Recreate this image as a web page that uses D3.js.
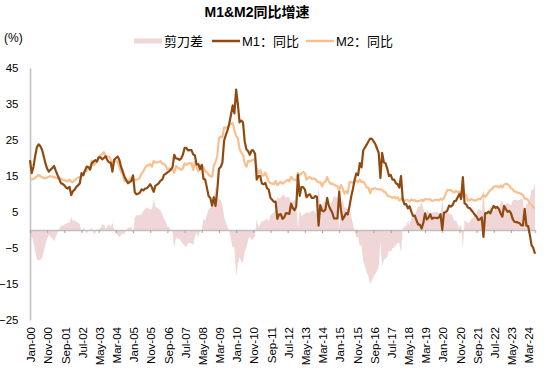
<!DOCTYPE html>
<html><head><meta charset="utf-8">
<script src="https://cdn.jsdelivr.net/npm/d3@7"></script>
<style>
body{margin:0;background:#fff;}
text{font-family:"Liberation Sans",Arial,"Noto Sans CJK SC",sans-serif;}
</style></head>
<body><svg id="c" width="550" height="380"></svg>
<script>
const title = "M1&M2同比增速";
const seriesNames = ["剪刀差", "M1：同比", "M2：同比"];
const startYear = 2000;
const tickLabels = ["Jan-00","Nov-00","Sep-01","Jul-02","May-03","Mar-04","Jan-05","Nov-05","Sep-06","Jul-07","May-08","Mar-09","Jan-10","Nov-10","Sep-11","Jul-12","May-13","Mar-14","Jan-15","Nov-15","Sep-16","Jul-17","May-18","Mar-19","Jan-20","Nov-20","Sep-21","Jul-22","May-23","Mar-24"];
const yTicks = [-25,-15,-5,5,15,25,35,45];
// M1 YoY %, monthly Jan-2000 .. Jul-2024
const m1 = [
19.4,15.8,17.5,20.5,23.0,23.8,23.3,22.3,20.5,18.5,17.0,16.2,
16.8,17.2,17.8,16.5,15.3,14.2,13.0,12.8,12.4,11.8,11.5,12.0,
9.7,10.8,11.2,12.0,12.4,13.0,15.8,15.2,16.5,17.6,17.5,16.8,
18.6,19.0,19.4,19.0,20.2,20.2,19.6,20.0,20.5,19.4,18.8,18.7,
16.2,19.5,20.0,20.4,19.5,17.6,16.2,14.8,13.9,13.0,13.3,13.6,
15.2,10.5,9.9,10.1,10.4,11.3,11.0,11.5,11.6,12.1,12.7,11.8,
10.6,12.3,12.6,13.0,13.7,14.0,15.3,15.6,16.0,16.3,16.8,17.5,
20.9,19.9,19.8,19.5,19.9,20.9,22.8,22.8,22.1,22.2,22.2,21.0,
20.7,18.2,18.3,16.9,18.1,14.2,14.0,11.7,9.4,8.9,6.8,9.1,
6.7,10.9,17.0,17.5,18.7,24.8,26.4,27.7,29.5,32.0,34.6,32.4,
39.0,35.0,29.9,30.4,29.9,24.6,22.4,21.9,20.9,22.1,22.1,21.2,
14.0,15.0,15.0,12.9,12.7,13.1,11.6,11.2,8.9,8.4,7.8,7.9,
3.1,4.3,4.4,3.1,3.5,4.7,4.6,4.5,7.3,6.1,5.5,6.5,
15.3,9.5,11.9,11.9,11.3,9.1,9.7,9.9,8.9,8.9,9.4,9.3,
1.2,6.9,5.4,5.2,5.7,8.9,6.7,5.7,4.8,3.2,3.2,3.2,
10.6,5.6,2.9,3.7,4.7,4.3,6.6,9.3,11.4,14.0,15.7,15.2,
18.6,17.4,22.1,22.9,23.7,24.6,25.4,25.3,24.7,23.9,22.7,21.4,
14.5,21.4,18.8,18.5,17.0,15.0,15.3,14.0,14.0,13.0,12.7,11.8,
15.0,8.5,7.1,7.2,6.0,6.6,5.1,3.9,4.0,2.7,1.5,1.5,
0.4,2.0,4.6,2.9,3.4,4.4,3.1,3.4,3.4,3.3,3.5,4.4,
0.0,4.8,5.0,5.5,6.8,6.5,6.9,8.0,8.1,9.1,10.0,8.6,
14.7,7.4,7.1,6.2,6.1,5.5,4.9,4.2,3.7,2.8,3.0,3.5,
-1.9,4.7,4.7,5.1,4.6,5.8,6.7,6.1,6.4,5.8,4.6,3.7,
6.7,5.8,5.1,5.3,4.7,3.1,2.3,2.2,2.1,1.9,1.3,1.3,
5.9,1.2,1.1,-1.4,-4.2,-5.0,-6.6];
// M2 YoY %, monthly Jan-2000 .. Jul-2024
const m2 = [
14.6,14.0,14.2,14.5,14.9,15.3,15.0,14.6,14.5,14.4,14.6,14.8,
15.0,14.8,14.7,14.6,14.4,14.4,14.2,14.0,13.9,13.6,13.5,14.0,
13.4,13.3,13.9,14.2,14.5,14.7,15.0,15.8,16.5,16.4,17.5,16.8,
19.3,18.0,18.5,19.2,20.2,20.8,21.0,21.6,20.7,20.4,20.4,19.6,
18.2,19.4,19.1,19.1,17.5,16.2,15.3,13.6,13.9,13.5,14.0,14.6,
14.1,13.9,14.0,14.1,14.6,15.7,16.3,17.3,17.9,18.0,18.3,17.6,
19.2,18.8,18.8,18.9,19.1,18.4,18.4,17.9,16.8,17.1,16.8,16.9,
15.9,17.8,17.3,17.1,16.7,17.1,18.5,18.1,18.5,18.5,18.5,16.7,
18.9,17.5,16.3,16.9,18.1,17.4,16.4,16.0,15.3,15.0,14.8,17.8,
18.8,20.5,25.5,26.0,25.7,28.5,28.4,28.5,29.3,29.4,29.7,27.7,
26.1,25.5,22.5,21.5,21.0,18.5,17.6,19.2,19.0,19.3,19.5,19.7,
17.2,15.7,16.6,15.3,15.1,15.9,14.7,13.5,13.0,12.9,12.7,13.6,
12.4,13.0,13.4,12.8,13.2,13.6,13.9,13.5,14.8,14.1,13.9,13.8,
15.9,15.2,15.7,16.1,15.8,14.0,14.5,14.7,14.2,14.3,14.2,13.6,
13.2,13.3,12.1,13.2,13.4,14.7,13.5,12.8,12.9,12.6,12.3,12.2,
10.8,12.5,11.6,10.1,10.8,10.2,13.3,13.3,13.1,13.5,13.7,13.3,
14.0,13.3,13.4,12.8,11.8,11.8,10.2,11.4,11.5,11.6,11.4,11.3,
11.3,11.1,10.6,10.5,9.6,9.4,9.2,8.9,9.2,8.8,9.1,8.2,
8.6,8.8,8.2,8.3,8.3,8.0,8.5,8.2,8.3,8.0,8.0,8.1,
8.4,8.0,8.6,8.5,8.5,8.5,8.1,8.2,8.4,8.4,8.2,8.7,
8.4,8.8,10.1,11.1,11.1,11.1,10.7,10.4,10.9,10.5,10.7,10.1,
9.4,10.1,9.4,8.1,8.3,8.6,8.3,8.2,8.3,8.7,8.5,9.0,
9.8,9.2,9.7,10.5,11.1,11.4,12.0,12.2,12.1,11.8,12.4,11.8,
12.6,12.9,12.7,12.4,11.6,11.3,10.7,10.6,10.3,10.3,10.0,9.7,
8.7,8.7,8.3,7.2,7.0,6.2,6.3];
// scissors gap = M2 - M1
const gap = m2.map((v,i)=>+(v - m1[i]).toFixed(2));

const svg = d3.select("#c");
const x = d3.scaleLinear().domain([0, m1.length-1]).range([30, 535]);
const y = d3.scaleLinear().domain([-25, 45]).range([320, 68]);
const idx = d3.range(m1.length);

// area
svg.append("path")
  .datum(idx)
  .attr("fill", "#f0d6d6")
  .attr("d", d3.area().x(i=>x(i)).y0(y(0)).y1(i=>y(gap[i])));

// y axis
const ya = svg.append("g").attr("transform","translate(30,0)")
  .call(d3.axisLeft(y).tickValues(yTicks).tickSize(0).tickPadding(11.5).tickFormat(d3.format("d")));
ya.select(".domain").attr("stroke","#bfbfbf").attr("stroke-width",1.5);
ya.selectAll("text").attr("font-size",11.5).attr("fill","#000").attr("font-family","'Liberation Sans',Arial,sans-serif");

// zero axis with ticks
const tickIdx = tickLabels.map((d,k)=>k*10);
const xa = svg.append("g").attr("transform",`translate(0,${y(0)})`)
  .call(d3.axisBottom(x).tickValues(tickIdx).tickSize(3).tickFormat(""));
xa.select(".domain").attr("stroke","#bfbfbf").attr("stroke-width",1.5);
xa.selectAll(".tick line").attr("stroke","#a6a6a6");

// tick labels
svg.append("g").selectAll("text").data(tickLabels).join("text")
  .attr("transform",(d,k)=>`translate(${x(tickIdx[k])},327) rotate(-90)`)
  .attr("text-anchor","end").attr("dy","0.45em")
  .attr("font-size",11.5).attr("fill","#000")
  .text(d=>d);

// lines
const line = arr => d3.line().x(i=>x(i)).y(i=>y(arr[i]));
svg.append("path").datum(idx).attr("fill","none").attr("stroke","#f9bf8e").attr("stroke-width",2.2)
  .attr("stroke-linejoin","round").attr("d", line(m2));
svg.append("path").datum(idx).attr("fill","none").attr("stroke","#8f4a12").attr("stroke-width",2.2)
  .attr("stroke-linejoin","round").attr("d", line(m1));

// title
svg.append("text").attr("x",257).attr("y",17).attr("text-anchor","middle")
  .attr("font-size",14).attr("font-weight","bold").attr("fill","#000").text(title);
svg.append("text").attr("x",4).attr("y",42).attr("font-size",12).attr("fill","#000").text("(%)");

// legend
const lg = svg.append("g");
lg.append("rect").attr("x",134).attr("y",38.5).attr("width",28).attr("height",5).attr("fill","#f0d6d6");
lg.append("text").attr("x",164).attr("y",46).attr("font-size",13).attr("fill","#000").text(seriesNames[0]);
lg.append("line").attr("x1",212).attr("x2",240).attr("y1",41).attr("y2",41).attr("stroke","#8f4a12").attr("stroke-width",2.5);
lg.append("text").attr("x",242).attr("y",46).attr("font-size",13).attr("fill","#000").text(seriesNames[1]);
lg.append("line").attr("x1",306).attr("x2",334).attr("y1",41).attr("y2",41).attr("stroke","#f9bf8e").attr("stroke-width",2.5);
lg.append("text").attr("x",336).attr("y",46).attr("font-size",13).attr("fill","#000").text(seriesNames[2]);
</script></body></html>
